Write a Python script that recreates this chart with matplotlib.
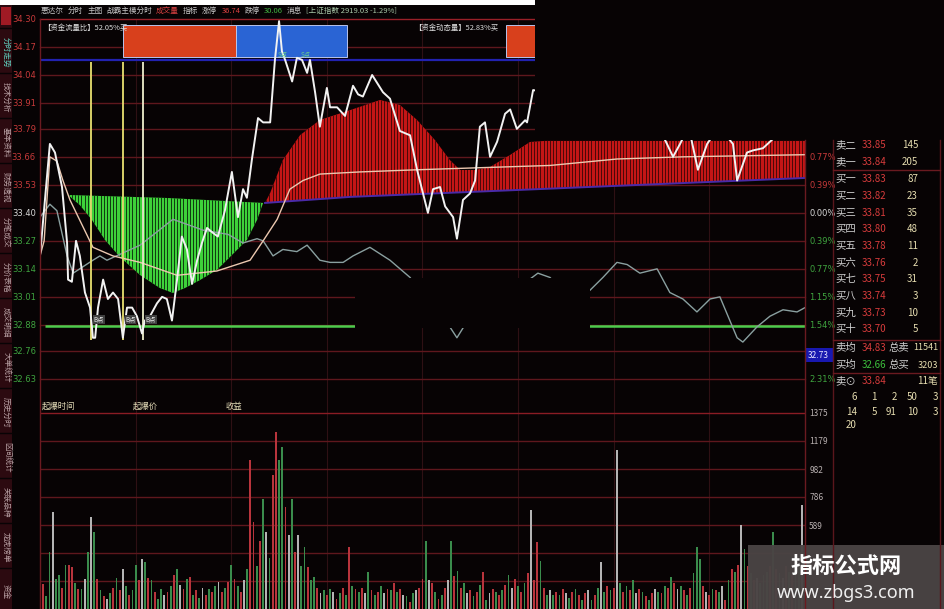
import matplotlib
matplotlib.use('Agg')
import matplotlib.pyplot as plt
from matplotlib.patches import Rectangle
import numpy as np

plt.rcParams['font.family'] = ['Noto Sans CJK SC', 'DejaVu Sans']

# ---------------- data ----------------
price_levels = [34.30, 34.17, 34.04, 33.91, 33.79, 33.66, 33.53, 33.40, 33.27, 33.14, 33.01, 32.88, 32.76, 32.63]
prev_close = 33.40
pct_levels = [33.66, 33.53, 33.40, 33.27, 33.14, 33.01, 32.88, 32.63]
pct_labels = ['0.77%', '0.39%', '0.00%', '0.39%', '0.77%', '1.15%', '1.54%', '2.31%']
vol_levels = [1375, 1179, 982, 786, 589, 393, 196]
vol_labels = ['1375', '1179', '982', '786', '589']
half_hours = [30, 60, 90, 120, 150, 180, 210]

price_m = [0, 3.1, 4.7, 6.9, 8.5, 8.8, 10.0, 11.3, 12.5, 14.1,
           15.7, 16.6, 17.3, 18.2, 19.8, 21.3, 22.9, 24.5, 26.0, 27.3,
           28.9, 30.4, 32.0, 32.9, 34.5, 36.7, 38.3, 39.8, 41.4, 43.0,
           44.5, 46.1, 47.7, 49.3, 50.8, 52.4, 54.0, 55.8, 58.0, 60.2,
           62.1, 63.7, 64.9, 66.5, 68.4, 70.0, 72.2, 73.7, 75.0, 75.9,
           76.9, 79.1, 80.6, 82.2, 83.8, 84.7, 86.3, 87.8, 90.0, 91.0,
           93.2, 95.7, 98.2, 99.8, 101.3, 104.2, 107.6, 109.8, 112.9, 116.1,
           118.3, 121.7, 123.3, 125.5, 127.1, 129.6, 130.8, 132.7, 134.9, 136.5,
           138.0, 139.6, 141.2, 143.4, 145.9, 147.5, 149.6, 152.2, 152.8, 154.7,
           162, 172, 182, 192, 196.7, 198.6, 200.8, 203.5, 206.4, 209.3,
           213, 217.4, 218.7, 221.8, 223.7, 226.8, 229.0, 234, 240]
price_p = [33.20, 33.72, 33.68, 33.52, 33.26, 33.09, 33.08, 33.27, 33.20, 33.03,
           32.96, 32.82, 32.82, 32.96, 33.09, 33.00, 33.03, 33.00, 32.82, 32.96,
           32.96, 32.92, 32.84, 32.90, 32.92, 32.98, 33.01, 33.00, 32.90, 33.09,
           33.29, 33.23, 33.07, 33.18, 33.26, 33.33, 33.31, 33.29, 33.41, 33.59,
           33.38, 33.51, 33.47, 33.65, 33.84, 33.82, 33.82, 34.11, 34.29, 34.15,
           34.11, 34.01, 34.12, 34.11, 34.05, 34.11, 33.96, 33.80, 33.98, 33.89,
           33.89, 33.85, 33.99, 33.95, 33.94, 34.04, 33.96, 33.93, 33.78, 33.76,
           33.60, 33.40, 33.51, 33.52, 33.43, 33.38, 33.28, 33.46, 33.49, 33.55,
           33.80, 33.82, 33.66, 33.73, 33.86, 33.88, 33.79, 33.83, 33.82, 33.97,
           33.95, 34.00, 33.90, 33.86, 33.72, 33.66, 33.72, 33.80, 33.60, 33.72,
           33.80, 33.72, 33.55, 33.68, 33.69, 33.70, 33.73, 33.80, 33.84]

avg_m = [0, 1.3, 3.1, 5.3, 7.2, 9.4, 16.6, 22.9, 31.4, 43.0, 55.5, 65.9,
         70.0, 74.4, 78.4, 82.5, 87.8, 100.4, 118.3, 139.0, 160.0, 181.0, 201.7, 240]
avg_p = [33.20, 33.27, 33.66, 33.64, 33.55, 33.46, 33.24, 33.20, 33.17, 33.11, 33.13, 33.18,
         33.27, 33.37, 33.51, 33.55, 33.58, 33.59, 33.60, 33.61, 33.62, 33.65, 33.66, 33.67]

idx_m = [0, 3.1, 5.3, 8.5, 10.4, 16.6, 18.8, 21.0, 31.4, 41.7,
         51.1, 59.0, 63.7, 68.1, 70.0, 73.1, 76.2, 80.6, 83.8, 87.8,
         91.0, 95.1, 98.2, 103.5, 109.8, 116.1, 122, 128.6, 130.8, 135,
         145, 154.4, 156.2, 160.0, 166.3, 172.5, 176.6, 181.0, 184.2, 188.2,
         193.6, 197.6, 201.7, 206.1, 210.2, 213.3, 218.7, 220.5, 224.9, 229.0,
         233.1, 237.5, 240]
idx_p = [33.38, 33.44, 33.41, 33.20, 33.12, 33.18, 33.20, 33.18, 33.25, 33.37,
         33.32, 33.30, 33.26, 33.28, 33.27, 33.20, 33.23, 33.22, 33.25, 33.18,
         33.17, 33.17, 33.20, 33.24, 33.18, 33.10, 32.98, 32.87, 32.82, 32.92,
         33.00, 33.10, 33.12, 33.10, 33.00, 33.04, 33.10, 33.17, 33.16, 33.12,
         33.14, 33.03, 33.00, 32.94, 33.00, 33.01, 32.82, 32.80, 32.87, 32.92,
         32.95, 32.94, 32.96]

# money-flow areas
green_top_m = [8.8, 40, 70.0]
green_top_p = [33.483, 33.469, 33.446]
green_bot_m = [8.8, 12.5, 16.3, 20.4, 25.1, 31.4, 37.6, 41.7, 45.5, 50.2, 55.5, 60.2, 64.9, 68.1, 70.0]
green_bot_p = [33.483, 33.436, 33.367, 33.274, 33.195, 33.111, 33.051, 33.028, 33.051, 33.088,
               33.135, 33.204, 33.274, 33.367, 33.446]
red_top_m = [70.6, 72.2, 76.2, 81.6, 87.8, 97.3, 106.7, 112.9, 118.3, 123.9, 128.6, 131.8,
             136.5, 141.2, 147.5, 153.7, 158.4, 240]
red_top_p = [33.446, 33.492, 33.645, 33.761, 33.831, 33.877, 33.924, 33.901, 33.831, 33.738,
             33.645, 33.599, 33.599, 33.613, 33.669, 33.729, 33.734, 33.734]
red_bot_m = [70.6, 97.3, 149.6, 240]
red_bot_p = [33.446, 33.474, 33.506, 33.562]

support_price = 32.875
pressure_price = 34.11
signal_m = [16.0, 26.0, 32.3]
signal_colors = ['#e8e070', '#e8e070', '#eeeecc']
box_start = [26.0, 61.5, 146.2]
box_end = [61.5, 96.3, 170.0]
box_colors = ['#d8401c', '#2a64d4', '#d8401c']
box_low, box_high = 34.124, 34.272

vol_s0 = [120, 175, 90, 400, 680, 210, 240, 150, 310, 310, 295, 180, 140, 140, 210,
          400, 645, 540, 210, 130, 90, 70, 110, 150, 220, 130, 280, 160, 100, 130]
vol_s1 = [310, 200, 350, 330, 220, 200, 120, 70, 140, 100, 120, 160, 240, 280, 170,
          140, 210, 225, 100, 130, 80, 150, 100, 140, 120, 160, 190, 120, 150, 190]
vol_s2 = [310, 210, 160, 120, 200, 280, 1045, 610, 300, 480, 770, 540, 360, 940, 1240,
          1045, 1135, 715, 520, 770, 400, 520, 300, 435, 295, 200, 225, 150, 110, 130]
vol_s3 = [100, 140, 120, 70, 110, 150, 100, 435, 160, 140, 120, 150, 110, 260, 130,
          100, 120, 160, 110, 140, 130, 180, 120, 140, 100, 90, 50, 110, 130, 150]
vol_s4 = [210, 480, 200, 180, 120, 70, 100, 150, 200, 480, 230, 270, 150, 180, 110,
          130, 90, 120, 170, 260, 60, 110, 140, 120, 100, 130, 170, 240, 150, 210]
vol_s5 = [160, 120, 180, 250, 695, 200, 470, 340, 150, 100, 130, 100, 120, 100, 140,
          110, 80, 120, 140, 100, 60, 110, 130, 60, 100, 150, 330, 120, 160, 130]
vol_s6 = [150, 1115, 180, 120, 160, 130, 200, 110, 140, 120, 90, 60, 110, 140, 120,
          110, 160, 150, 225, 180, 140, 160, 130, 100, 150, 250, 435, 350, 160, 120]
vol_s7 = [100, 140, 130, 120, 160, 60, 200, 280, 260, 310, 590, 420, 300, 250, 200,
          220, 180, 240, 260, 300, 540, 280, 250, 220, 300, 260, 240, 280, 300, 730]
vol_c = ("rrggwggrgrrgrgwgwgrgrwgrgrwgrg"
         "grwgrgrggwrgrgwrgrgrgwrgrgwrgr"
         "grgrwgrrgrgwgrrggrwgrwggrggrwg"
         "rgwrgrgrgrgrwgrgrgwrgrgrwgrgwr"
         "rgwrgrgrwgrgrgwrgrgrgwrgrgrgwr"
         "grgrwrrgrgwgrgrwgrgrgrwgrgwgrg"
         "rwgrgrgwrgrgrwgrgrgrwgrgrgggrw"
         "rgrgwrgrgrwgrgrwgggrgrgwrgrggw")

book_labels = ['卖二', '卖一', '买一', '买二', '买三', '买四', '买五', '买六', '买七', '买八', '买九', '买十']
book_prices = ['33.85', '33.84', '33.83', '33.82', '33.81', '33.80', '33.78', '33.76', '33.75', '33.74', '33.73', '33.70']
book_vols = ['145', '205', '87', '23', '35', '48', '11', '2', '31', '3', '10', '5']
tick_rows = [['6', '1', '2', '50', '3'], ['14', '5', '91', '10', '3'], ['20']]
title_texts = ['惠达尔', '分时', '主图', '战霸主模分时', '成交量', '指标', '涨停', '36.74', '跌停', '30.06',
               '消息', '[上证指数 2919.03 -1.29%]']
title_colors = ['#c8c8c8', '#c8c8c8', '#c8c8c8', '#c8c8c8', '#d84040', '#c8c8c8', '#c8c8c8', '#d84040',
                '#c8c8c8', '#40b040', '#c8c8c8', '#a8c8a8']

# ---------------- figure ----------------
BG = '#070304'
GRID = '#5e171d'
W, H = 945.0, 609.0
X0, X1 = 40, 805
P_TOP, P_BOT = 19, 399
fig = plt.figure(figsize=(9.45, 6.09), dpi=100, facecolor=BG)
ax = fig.add_axes([X0 / W, 1 - P_BOT / H, (X1 - X0) / W, (P_BOT - P_TOP) / H])
axv = fig.add_axes([X0 / W, 0, (X1 - X0) / W, (H - P_BOT) / H])
px_per = 0.13 / 28.0
ax.set_ylim(34.30 - (P_BOT - P_TOP) * px_per, 34.30)
ax.set_xlim(0, 240)
axv.set_xlim(0, 240)
axv.set_ylim(0, 1375 + 14 * 196.4 / 28)
for a in (ax, axv):
    a.set_facecolor(BG)
    for s in a.spines.values():
        s.set_visible(False)
    a.set_xticks([])

# grid
for i, lv in enumerate(price_levels):
    ax.axhline(lv, color='#9a2028' if i == 0 else GRID, lw=1.0, zorder=0.5, clip_on=False)
for i, lv in enumerate(vol_levels):
    axv.axhline(lv, color='#8a1c24' if i == 0 else GRID, lw=1.0, zorder=0.5)
for m in half_hours:
    ax.axvline(m, color='#2e1014', lw=0.8, zorder=0.4)
    axv.axvline(m, color='#2e1014', lw=0.8, zorder=0.4)

def lvl_color(v):
    if abs(v - prev_close) < 0.001:
        return '#d8d8d8'
    return '#c83a3a' if v > prev_close else '#3fa43f'

# price axis labels
ax.set_yticks(price_levels)
ax.set_yticklabels(['%.2f' % v for v in price_levels])
ax.tick_params(axis='y', length=0, pad=3, labelsize=6)
for lab, v in zip(ax.get_yticklabels(), price_levels):
    lab.set_color(lvl_color(v))
    lab.set_family(['DejaVu Sans'])
axr = ax.twinx()
axr.set_ylim(ax.get_ylim())
for s in axr.spines.values():
    s.set_visible(False)
axr.set_yticks(pct_levels)
axr.set_yticklabels(pct_labels)
axr.tick_params(axis='y', length=0, pad=3, labelsize=6)
for lab, v in zip(axr.get_yticklabels(), pct_levels):
    lab.set_color(lvl_color(v))
    lab.set_family(['DejaVu Sans'])
axv.yaxis.tick_right()
axv.set_yticks(vol_levels[:5])
axv.set_yticklabels(vol_labels)
axv.tick_params(axis='y', length=0, pad=3, labelsize=6, labelcolor='#b8b0b0')

# top indicator boxes
ax.bar(box_start, box_high - box_low, width=np.array(box_end) - np.array(box_start), bottom=box_low,
       align='edge', color=box_colors, edgecolor='#b8c4ec', lw=0.7, zorder=1)
ax.hlines(pressure_price, 0, 240, color='#2222b0', lw=1.6, zorder=1.2)

# money-flow areas with striped look
def striped(xt, yt, xb, yb, face, gap):
    poly = ax.fill(np.concatenate([xt, xb[::-1]]), np.concatenate([yt, yb[::-1]]),
                   color=face, lw=0, zorder=2)[0]
    st = ax.vlines(np.arange(0, 241, 1.0), 32.5, 34.4, color=gap, lw=0.7, zorder=2.1)
    st.set_clip_path(poly)

striped(np.array(green_top_m), np.array(green_top_p), np.array(green_bot_m), np.array(green_bot_p), '#3ed23a', '#0f3a10')
striped(np.array(red_top_m), np.array(red_top_p), np.array(red_bot_m), np.array(red_bot_p), '#c41616', '#4a0808')
ax.plot(red_bot_m, red_bot_p, color='#4a2aa8', lw=1.4, zorder=2.2)

ax.hlines(support_price, 1.5, 240, color='#4ccc4c', lw=1.8, zorder=2.5)
ax.plot(idx_m, idx_p, color='#8aa0a0', lw=1.0, zorder=3)
ax.plot(avg_m, avg_p, color='#ecc8b0', lw=1.0, zorder=3.2)
for m, c in zip(signal_m, signal_colors):
    ax.vlines(m, 32.81, pressure_price - 0.01, color=c, lw=1.3, zorder=3.3)
    ax.text(m + 0.8, 32.905, 'B点', fontsize=4.5, color='#f0f0f0', zorder=4, va='center',
            bbox=dict(boxstyle='square,pad=0.1', fc='#404040', ec='none'))
ax.plot(price_m, price_p, color='#f2f2f2', lw=1.4, zorder=3.5)
for m in (76.0, 83.5):
    ax.text(m, 34.135, 'S点', fontsize=4.5, color='#6ad08a', zorder=4, ha='center', va='center')

# volume bars
vols = vol_s0 + vol_s1 + vol_s2 + vol_s3 + vol_s4 + vol_s5 + vol_s6 + vol_s7
cmap = {'r': '#b8343c', 'g': '#3a8c4c', 'w': '#b4b4b4'}
axv.bar(np.arange(len(vols)), vols, width=0.55, color=[cmap[c] for c in vol_c], zorder=2)

# ---------------- overlay ----------------
ov = fig.add_axes([0, 0, 1, 1], zorder=10)
ov.set_xlim(0, W)
ov.set_ylim(H, 0)
ov.axis('off')
ov.patch.set_alpha(0)

# censored regions of the screenshot
ov.add_patch(Rectangle((535, 0), 410, 140, fc=BG, ec='none'))
ov.add_patch(Rectangle((355, 278), 235, 50, fc=BG, ec='none'))
ov.add_patch(Rectangle((0, 0), 535, 5, fc='#ffffff', ec='none'))

# borders
ov.plot([X0, X0], [P_TOP, H], color='#6a1a20', lw=1)
ov.plot([X1, X1], [140, H], color='#6a1a20', lw=1)
ov.plot([833, 833], [140, H], color='#5a161c', lw=1)
ov.plot([940, 940], [140, H], color='#5a161c', lw=1)
for yy in (170, 340, 373):
    ov.plot([833, 940], [yy, yy], color='#6a1a20', lw=1)

# left strip
ov.add_patch(Rectangle((0, 5), 12, 604, fc='#2c0a10', ec='none'))
ov.add_patch(Rectangle((1, 7), 10, 18, fc='#a01a24', ec='none'))
tabs = ['分时走势', '技术分析', '基本资料', '财务透视', '分笔成交', '分价表格', '成交明细',
        '大单统计', '历史分时', '区间统计', '关联品种', '龙虎榜单', '资金']
ty = 30
for i, t in enumerate(tabs):
    ov.plot([0, 12], [ty - 2, ty - 2], color='#080305', lw=1)
    ov.text(6, ty + 22, t, rotation=270, fontsize=5.5, ha='center', va='center',
            color='#5fd0c0' if i == 0 else '#b8a0a4')
    ty += 45

# title row, laid out left to right without overlaps
renderer = fig.canvas.get_renderer()
inv = ov.transData.inverted()
tx = 41
for t, c in zip(title_texts, title_colors):
    txt = ov.text(tx, 11, t, fontsize=5.5, color=c, va='center', ha='left')
    bb = txt.get_window_extent(renderer=renderer)
    right = inv.transform((bb.x1, bb.y0))[0]
    tx = right + 4
ov.text(43, 28, '【资金流量比】52.05%买', fontsize=5.3, color='#e0e0e0', va='center')
ov.text(414, 28, '【资金动态量】52.83%买', fontsize=5.3, color='#e0e0e0', va='center')

# lower panel labels
ov.text(42, 406, '起爆时间', fontsize=6, color='#e4dcb8', va='center')
ov.text(133, 406, '起爆价', fontsize=6, color='#e4dcb8', va='center')
ov.text(226, 406, '收益', fontsize=6, color='#e4dcb8', va='center')

# cursor price box
ov.add_patch(Rectangle((806, 348), 27, 14, fc='#1818b0', ec='none'))
ov.text(808, 355, '32.73', fontsize=6, color='#e8e8ff', va='center')

# order book
row_y = [145, 162, 179, 196, 213, 229, 246, 263, 279, 296, 313, 329]
for y, l, p, v in zip(row_y, book_labels, book_prices, book_vols):
    ov.text(835, y, l, fontsize=7.5, color='#d0d0d0', va='center')
    ov.text(862, y, p, fontsize=7, color='#d83c3c', va='center')
    ov.text(918, y, v, fontsize=7, color='#e6ddb0', va='center', ha='right')
ov.text(835, 348, '卖均', fontsize=7.5, color='#d0d0d0', va='center')
ov.text(862, 348, '34.83', fontsize=7, color='#d83c3c', va='center')
ov.text(889, 348, '总卖', fontsize=7.5, color='#d0d0d0', va='center')
ov.text(938, 348, '11541', fontsize=6.5, color='#e6ddb0', va='center', ha='right')
ov.text(835, 365, '买均', fontsize=7.5, color='#d0d0d0', va='center')
ov.text(862, 365, '32.66', fontsize=7, color='#3cc03c', va='center')
ov.text(889, 365, '总买', fontsize=7.5, color='#d0d0d0', va='center')
ov.text(938, 365, '3203', fontsize=6.5, color='#e6ddb0', va='center', ha='right')
ov.text(835, 381, '卖⊙', fontsize=7.5, color='#d0d0d0', va='center')
ov.text(862, 381, '33.84', fontsize=7, color='#d83c3c', va='center')
ov.text(938, 381, '11笔', fontsize=7, color='#e6ddb0', va='center', ha='right')
col_x = [857, 877, 897, 918, 938]
for y, row in zip([397, 412, 425], tick_rows):
    for x, t in zip(col_x, row):
        ov.text(x, y, t, fontsize=7, color='#e6ddb0', va='center', ha='right')

# watermark
ov.add_patch(Rectangle((748, 545), 197, 64, fc='#4a4444', ec='none', alpha=0.97))
ov.text(846, 566, '指标公式网', fontsize=16, color='#ffffff', ha='center', va='center', fontweight='bold')
ov.text(846, 593, 'www.zbgs3.com', fontsize=13, color='#f0f0f0', ha='center', va='center',
        family=['Noto Sans', 'DejaVu Sans'])

fig.savefig('out.png', dpi=100, facecolor=BG)
